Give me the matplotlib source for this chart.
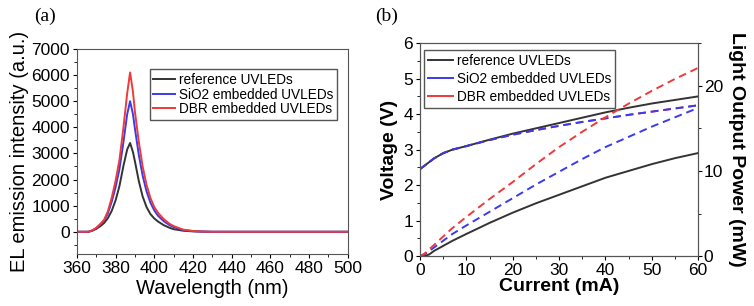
import matplotlib.pyplot as plt
from matplotlib.ticker import MultipleLocator

# (a) EL spectra
wavelength = [360, 366, 368, 370, 372, 374, 376, 378, 380, 382, 384, 386, 387.5,
              389, 390, 392, 394, 396, 398, 400, 402, 405, 408, 410, 415, 420,
              425, 430, 440, 460, 500]
el_ref = [0, 0, 40, 110, 210, 330, 520, 800, 1200, 1750, 2500, 3150, 3400,
          3050, 2700, 1950, 1350, 950, 680, 510, 390, 250, 150, 100, 40, 15,
          5, 0, 0, 0, 0]
el_sio2 = [0, 0, 50, 140, 270, 420, 700, 1150, 1700, 2400, 3400, 4500, 5000,
           4500, 3950, 2950, 2150, 1550, 1120, 820, 610, 400, 250, 180, 70, 25,
           8, 0, 0, 0, 0]
el_dbr = [0, 0, 60, 150, 290, 450, 780, 1300, 1950, 2750, 3950, 5300, 6100,
          5350, 4600, 3450, 2500, 1800, 1300, 950, 720, 480, 300, 220, 80, 30,
          10, 0, 0, 0, 0]

# (b) I-V and L-I
current = [0, 1, 2, 3, 5, 7, 10, 15, 20, 25, 30, 35, 40, 45, 50, 55, 60]
v_ref = [2.45, 2.55, 2.65, 2.75, 2.9, 3.0, 3.1, 3.28, 3.45, 3.6, 3.75, 3.9, 4.05,
         4.18, 4.3, 4.4, 4.5]
v_sio2 = [2.45, 2.55, 2.65, 2.75, 2.9, 3.0, 3.1, 3.27, 3.42, 3.55, 3.67, 3.78, 3.88,
          3.98, 4.07, 4.16, 4.25]
v_dbr = v_sio2
p_ref = [0, 0, 0.2, 0.6, 1.2, 1.8, 2.6, 3.9, 5.1, 6.2, 7.2, 8.2, 9.2, 10.0, 10.8,
         11.5, 12.1]
p_sio2 = [0, 0.2, 0.6, 1.0, 1.8, 2.6, 3.6, 5.2, 6.8, 8.4, 9.9, 11.4, 12.8, 14.0,
          15.2, 16.3, 17.4]
p_dbr = [0, 0.3, 0.8, 1.3, 2.3, 3.3, 4.6, 6.7, 8.7, 10.8, 12.8, 14.6, 16.3, 17.9,
         19.4, 20.8, 22.1]

c_blk = '#333333'
c_blue = '#3a3aee'
c_red = '#ee3a3a'

plt.rcParams['font.family'] = ['Liberation Sans', 'DejaVu Sans']
fig = plt.figure(figsize=(7.54, 3.06), dpi=100)

ax1 = fig.add_axes([0.102, 0.170, 0.359, 0.670])
ax1.plot(wavelength, el_ref, color=c_blk, lw=1.4, label='reference UVLEDs')
ax1.plot(wavelength, el_sio2, color=c_blue, lw=1.4, label='SiO2 embedded UVLEDs')
ax1.plot(wavelength, el_dbr, color=c_red, lw=1.4, label='DBR embedded UVLEDs')
ax1.set_xlim(360, 500)
ax1.set_ylim(-850, 7000)
ax1.set_yticks(range(0, 7001, 1000))
ax1.set_xticks(range(360, 501, 20))
ax1.xaxis.set_minor_locator(MultipleLocator(10))
ax1.yaxis.set_minor_locator(MultipleLocator(500))
ax1.set_xlabel('Wavelength (nm)', fontsize=14.5, labelpad=2)
ax1.set_ylabel('EL emission intensity (a.u.)', fontsize=14.5, labelpad=2)
ax1.tick_params(labelsize=12.5, length=3, pad=2)
ax1.tick_params(which='minor', length=2)
leg1 = ax1.legend(loc='upper left', bbox_to_anchor=(0.27, 0.9), fontsize=9.8,
                  handlelength=1.6, handletextpad=0.3, labelspacing=0.05,
                  borderpad=0.25, borderaxespad=0, fancybox=False, framealpha=1)
leg1.get_frame().set_edgecolor('#555555')
for s in ax1.spines.values():
    s.set_color('#555555')
fig.text(0.045, 0.93, '(a)', fontsize=14, family='Liberation Serif')

ax2 = fig.add_axes([0.557, 0.163, 0.369, 0.696])
ax3 = ax2.twinx()
ax2.plot(current, v_dbr, color=c_red, lw=1.4, ls=(0, (4, 2.5)))
ax2.plot(current, v_ref, color=c_blk, lw=1.4, label='reference UVLEDs')
ax2.plot(current, v_sio2, color=c_blue, lw=1.4, ls=(0, (4, 2.5)))
ax3.plot(current, p_ref, color=c_blk, lw=1.4)
ax3.plot(current, p_sio2, color=c_blue, lw=1.4, ls=(0, (4, 2.5)))
ax3.plot(current, p_dbr, color=c_red, lw=1.4, ls=(0, (4, 2.5)))
ax2.plot([], [], color=c_blue, lw=1.4, label='SiO2 embedded UVLEDs')
ax2.plot([], [], color=c_red, lw=1.4, label='DBR embedded UVLEDs')
ax2.set_xlim(0, 60)
ax2.set_ylim(0, 6)
ax3.set_ylim(0, 25)
ax2.set_xticks(range(0, 61, 10))
ax3.set_yticks([0, 10, 20])
ax2.xaxis.set_minor_locator(MultipleLocator(5))
ax2.yaxis.set_minor_locator(MultipleLocator(0.5))
ax3.yaxis.set_minor_locator(MultipleLocator(5))
ax2.set_xlabel('Current (mA)', fontsize=14, fontweight='bold', labelpad=0)
ax2.set_ylabel('Voltage (V)', fontsize=14, fontweight='bold', labelpad=4)
ax3.set_ylabel('Light Output Power (mW)', fontsize=14, fontweight='bold',
               rotation=270, labelpad=16)
ax2.tick_params(labelsize=12.5, length=3, pad=2)
ax3.tick_params(labelsize=12.5, length=3, pad=1)
ax2.tick_params(which='minor', length=2)
ax3.tick_params(which='minor', length=2)
leg2 = ax2.legend(loc='upper left', bbox_to_anchor=(0.015, 0.97), fontsize=9.8,
                  handlelength=1.8, handletextpad=0.3, labelspacing=0.3,
                  borderpad=0.3, borderaxespad=0, fancybox=False, framealpha=1)
leg2.get_frame().set_edgecolor('#555555')
for ax in (ax2, ax3):
    for s in ax.spines.values():
        s.set_color('#555555')
fig.text(0.497, 0.93, '(b)', fontsize=14, family='Liberation Serif')

fig.savefig('out.png', dpi=100)
